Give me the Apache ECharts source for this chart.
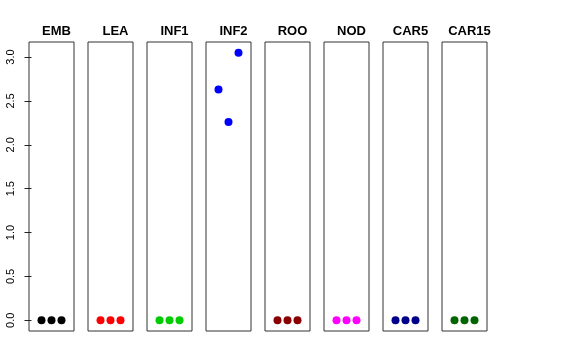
<!DOCTYPE html>
<html><head><meta charset="utf-8">
<script src="https://cdn.jsdelivr.net/npm/echarts@6/dist/echarts.min.js"></script>
<style>html,body{margin:0;padding:0;background:#fff}#c{width:576px;height:360px}</style>
</head><body><div id="c"></div>
<script>
const panels = ["EMB","LEA","INF1","INF2","ROO","NOD","CAR5","CAR15"];
const colors = ["#000000","#FF0000","#00CD00","#0000FF","#8B0000","#FF00FF","#00008B","#006400"];
const xPos = [1,2,3];
const values = [
  [0,0,0],
  [0,0,0],
  [0,0,0],
  [2.63,2.26,3.05],
  [0,0,0],
  [0,0,0],
  [0,0,0],
  [0,0,0]
];
const yTicks = [0,0.5,1,1.5,2,2.5,3];

const chart = echarts.init(document.getElementById('c'));
const grids=[], xAxes=[], yAxes=[], series=[], titles=[];
const L0=29, W=45, STEP=59, TOP=42, H=289;
panels.forEach((p,i)=>{
  const left=L0+STEP*i;
  grids.push({left:left,top:TOP,width:W,height:H,show:true,borderColor:'#333',borderWidth:1,backgroundColor:'transparent'});
  xAxes.push({type:'value',gridIndex:i,min:-0.25,max:4.25,show:false});
  yAxes.push({type:'value',gridIndex:i,min:-0.122,max:3.172,
    show:i===0,
    splitLine:{show:false},
    axisLine:{show:false},
    axisTick:{show:i===0,length:7,inside:false,customValues:yTicks,lineStyle:{color:'#222'}},
    axisLabel:{show:i===0,customValues:yTicks,rotate:90,margin:13,fontSize:11,color:'#000',
      fontFamily:'Liberation Sans, Arial, sans-serif',formatter:v=>Number(v).toFixed(1)}
  });
  series.push({type:'scatter',xAxisIndex:i,yAxisIndex:i,symbol:'circle',symbolSize:8,
    itemStyle:{color:colors[i],opacity:1},silent:true,animation:false,
    data:xPos.map((x,k)=>[x,values[i][k]])});
  titles.push({text:p,left:left+W/2,top:20,textAlign:'center',
    textStyle:{fontSize:13,fontWeight:'bold',color:'#000',fontFamily:'Liberation Sans, Arial, sans-serif'}});
});
chart.setOption({animation:false,backgroundColor:'#fff',title:titles,grid:grids,xAxis:xAxes,yAxis:yAxes,series:series});
</script></body></html>
